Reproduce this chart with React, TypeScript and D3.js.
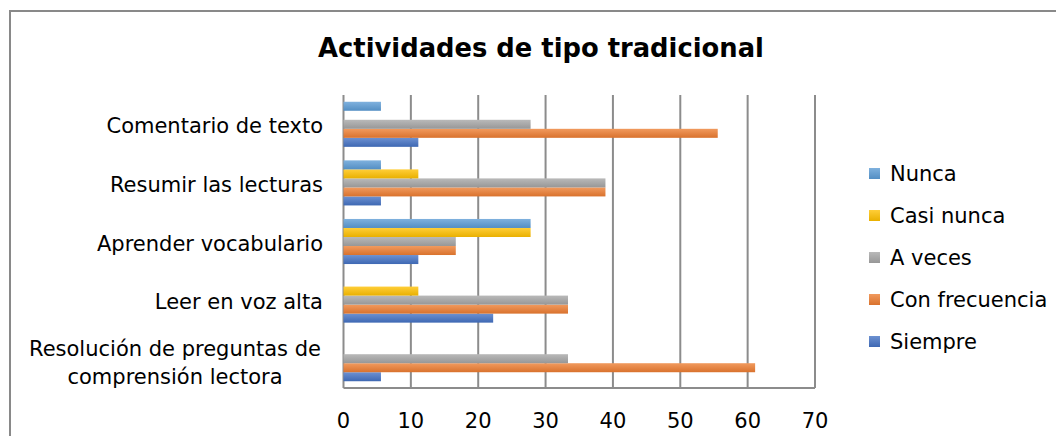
import React from "react";
import * as d3 from "d3";

const categories = [
  "Resolución de preguntas de comprensión lectora",
  "Leer en voz alta",
  "Aprender vocabulario",
  "Resumir las lecturas",
  "Comentario de texto",
];
const categoryLines: string[][] = [
  ["Resolución de preguntas de", "comprensión lectora"],
  ["Leer en voz alta"],
  ["Aprender vocabulario"],
  ["Resumir las lecturas"],
  ["Comentario de texto"],
];

// series order: bottom to top within a group
const seriesNames = ["Siempre", "Con frecuencia", "A veces", "Casi nunca", "Nunca"];
const siempre = [5.56, 22.22, 11.11, 5.56, 11.11];
const conFrecuencia = [61.11, 33.33, 16.67, 38.89, 55.56];
const aVeces = [33.33, 33.33, 16.67, 38.89, 27.78];
const casiNunca = [0, 11.11, 27.78, 11.11, 0];
const nunca = [0, 0, 27.78, 5.56, 5.56];
const seriesValues = [siempre, conFrecuencia, aVeces, casiNunca, nunca];
const seriesColors = ["#4472c4", "#ed7d31", "#a5a5a5", "#ffc000", "#5b9bd5"];
const xTicks = [0, 10, 20, 30, 40, 50, 60, 70];

const W = 1056;
const H = 436;
const FONT = "'DejaVu Sans', Verdana, sans-serif";
const FS = 21;

export default function App() {
  const x = d3.scaleLinear().domain([0, 70]).range([343.5, 815]);
  // categories bottom to top
  const y = d3
    .scaleBand<string>()
    .domain([...categories].reverse())
    .range([95, 388])
    .paddingInner(0)
    .paddingOuter(0);
  const bw = y.bandwidth();
  const inner = d3
    .scaleBand<string>()
    .domain([...seriesNames].reverse())
    .range([0, bw])
    .paddingInner(0)
    .paddingOuter(0.75);

  const legendOrder = [...seriesNames].reverse();

  return (
    <svg
      width={W}
      height={H}
      style={{ position: "absolute", left: 0, top: 0, background: "#fff" }}
      fontFamily={FONT}
    >
      <defs>
        {seriesColors.map((c, i) => {
          const light = d3.interpolateRgb(c, "#ffffff")(0.22);
          return (
            <linearGradient key={i} id={`g${i}`} x1="0" y1="0" x2="0" y2="1">
              <stop offset="0" stopColor={light} />
              <stop offset="1" stopColor={d3.color(c)!.darker(0.25).formatHex()} />
            </linearGradient>
          );
        })}
      </defs>
      <rect x={10} y={11} width={W + 10} height={H + 10} fill="#fff" stroke="#898989" strokeWidth={2} />
      <text x={541} y={57} textAnchor="middle" fontWeight="bold" fontSize={25.8} fill="#000">
        Actividades de tipo tradicional
      </text>
      {/* gridlines */}
      {xTicks.map((t) => (
        <line key={t} x1={x(t)} x2={x(t)} y1={95} y2={388} stroke="#8c8c8c" strokeWidth={2} />
      ))}
      {/* bars */}
      {categories.map((cat, ci) =>
        seriesNames.map((s, si) => {
          const v = seriesValues[si][ci];
          if (v <= 0) return null;
          const y0 = (y(cat) ?? 0) + (inner(s) ?? 0);
          return (
            <rect
              key={cat + s}
              x={x(0)}
              y={y0}
              width={x(v) - x(0)}
              height={inner.bandwidth()}
              fill={`url(#g${si})`}
            />
          );
        })
      )}
      <line x1={x(0)} x2={x(70)} y1={388} y2={388} stroke="#8c8c8c" strokeWidth={2} />
      {/* x tick labels */}
      {xTicks.map((t) => (
        <text key={t} x={x(t)} y={428} textAnchor="middle" fontSize={FS} fill="#000">
          {t}
        </text>
      ))}
      {/* category labels */}
      {categories.map((cat, ci) => {
        const lines = categoryLines[ci];
        const cy = (y(cat) ?? 0) + bw / 2;
        if (lines.length === 1) {
          return (
            <text key={cat} x={323} y={cy + 9} textAnchor="end" fontSize={FS} fill="#000">
              {lines[0]}
            </text>
          );
        }
        return (
          <text key={cat} x={175} y={cy} textAnchor="middle" fontSize={FS} fill="#000">
            <tspan x={175} y={cy - 3}>{lines[0]}</tspan>
            <tspan x={175} y={cy + 25}>{lines[1]}</tspan>
          </text>
        );
      })}
      {/* legend */}
      {legendOrder.map((s, i) => {
        const si = seriesNames.indexOf(s);
        const cy = 173 + i * 42;
        return (
          <g key={s}>
            <rect x={869} y={cy - 5} width={11} height={11} fill={`url(#g${si})`} />
            <text x={890} y={cy + 8} fontSize={FS} fill="#000">
              {s}
            </text>
          </g>
        );
      })}
    </svg>
  );
}
